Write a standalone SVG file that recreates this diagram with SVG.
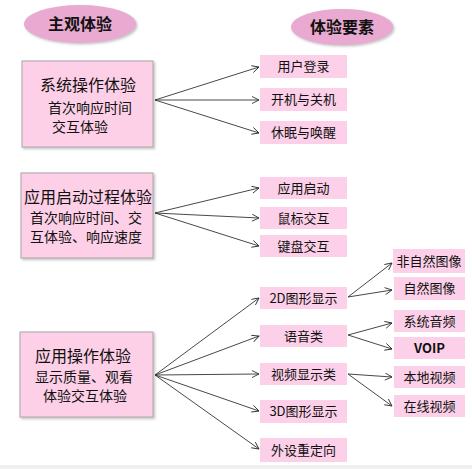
<svg xmlns="http://www.w3.org/2000/svg" width="472" height="469" viewBox="0 0 472 469">
<defs>
<style>
text{font-family:"Noto Sans CJK SC","Liberation Sans",sans-serif;fill:#111;}
.el{fill:#e9a9d0;}
.main{fill:#fdd0e8;stroke:#b8b0b4;stroke-width:1.2;}
.item{fill:#fcd0e8;}
.t16{font-size:16px;}
.t14{font-size:14px;}
.t13{font-size:13px;text-anchor:middle;}
.bold{font-weight:bold;font-size:16px;text-anchor:middle;}
.c{stroke:#333;stroke-width:0.9;fill:none;marker-end:url(#ah);}
</style>
<marker id="ah" markerWidth="10" markerHeight="10" refX="8" refY="4" orient="auto" markerUnits="userSpaceOnUse">
<polyline points="1,0.5 8,4 1,7.5" fill="none" stroke="#333" stroke-width="0.9"/>
</marker>
<filter id="sh" x="-10%" y="-10%" width="130%" height="130%">
<feDropShadow dx="1.5" dy="1.5" stdDeviation="1" flood-color="#888" flood-opacity="0.5"/>
</filter>
</defs>
<rect x="0" y="0" width="472" height="469" fill="#ffffff"/>
<rect x="0" y="465" width="472" height="4" fill="#f0f0f0"/>

<g id="ell1"><ellipse class="el" cx="80" cy="24" rx="56" ry="19" filter="url(#sh)"/><text class="bold" x="80" y="30">主观体验</text></g>
<g id="ell2"><ellipse class="el" cx="342" cy="27" rx="51" ry="18" filter="url(#sh)"/><text class="bold" x="342" y="33">体验要素</text></g>

<g id="box1"><rect class="main" x="22" y="61" width="131" height="86" filter="url(#sh)"/>
<text class="t16" x="40" y="91">系统操作体验</text>
<text class="t14" x="48" y="113">首次响应时间</text>
<text class="t14" x="52" y="132">交互体验</text></g>

<g id="box2"><rect class="main" x="21" y="173" width="132" height="85" filter="url(#sh)"/>
<text class="t16" x="24" y="203">应用启动过程体验</text>
<text class="t14" x="30" y="223">首次响应时间、交</text>
<text class="t14" x="30" y="242">互体验、响应速度</text></g>

<g id="box3"><rect class="main" x="20" y="332" width="133" height="85" filter="url(#sh)"/>
<text class="t16" x="35" y="362">应用操作体验</text>
<text class="t14" x="35" y="382">显示质量、观看</text>
<text class="t14" x="43" y="401">体验交互体验</text></g>

<g id="n-login"><rect class="item" x="260" y="55" width="87" height="23"/><text class="t13" x="303.5" y="71">用户登录</text></g>
<g id="n-power"><rect class="item" x="260" y="88" width="87" height="23"/><text class="t13" x="303.5" y="104">开机与关机</text></g>
<g id="n-sleep"><rect class="item" x="260" y="121" width="87" height="23"/><text class="t13" x="303.5" y="137">休眠与唤醒</text></g>

<g id="n-launch"><rect class="item" x="260" y="177" width="87" height="22"/><text class="t13" x="303.5" y="193">应用启动</text></g>
<g id="n-mouse"><rect class="item" x="260" y="207" width="87" height="22"/><text class="t13" x="303.5" y="223">鼠标交互</text></g>
<g id="n-kbd"><rect class="item" x="260" y="235" width="87" height="22"/><text class="t13" x="303.5" y="251">键盘交互</text></g>

<g id="n-2d"><rect class="item" x="260" y="287" width="87" height="22"/><text class="t13" x="303.5" y="303">2D图形显示</text></g>
<g id="n-voice"><rect class="item" x="260" y="325" width="87" height="22"/><text class="t13" x="303.5" y="341">语音类</text></g>
<g id="n-video"><rect class="item" x="260" y="363" width="87" height="22"/><text class="t13" x="303.5" y="379">视频显示类</text></g>
<g id="n-3d"><rect class="item" x="260" y="400" width="87" height="23"/><text class="t13" x="303.5" y="416">3D图形显示</text></g>
<g id="n-periph"><rect class="item" x="260" y="438" width="87" height="24"/><text class="t13" x="303.5" y="455">外设重定向</text></g>

<g id="n-nonnat"><rect class="item" x="393" y="249" width="72" height="24"/><text class="t13" x="429" y="266">非自然图像</text></g>
<g id="n-nat"><rect class="item" x="394" y="277" width="71" height="23"/><text class="t13" x="429.5" y="293">自然图像</text></g>
<g id="n-sysaudio"><rect class="item" x="394" y="310" width="71" height="22"/><text class="t13" x="429.5" y="326">系统音频</text></g>
<g id="n-voip"><rect class="item" x="394" y="337" width="71" height="22"/><text class="t13" x="429.5" y="353" font-weight="bold">VOIP</text></g>
<g id="n-local"><rect class="item" x="394" y="366" width="71" height="22"/><text class="t13" x="429.5" y="382">本地视频</text></g>
<g id="n-online"><rect class="item" x="394" y="395" width="71" height="22"/><text class="t13" x="429.5" y="411">在线视频</text></g>

<g id="connectors">
<path class="c" d="M155 100 L259 67"/>
<path class="c" d="M155 100 L259 100"/>
<path class="c" d="M155 100 L259 133"/>
<path class="c" d="M155 213 L259 188"/>
<path class="c" d="M155 213 L259 218"/>
<path class="c" d="M155 213 L259 246"/>
<path class="c" d="M155 375 L259 298"/>
<path class="c" d="M155 375 L259 336"/>
<path class="c" d="M155 375 L259 374"/>
<path class="c" d="M155 375 L259 411"/>
<path class="c" d="M155 375 L259 449"/>
<path class="c" d="M348 297 L392 263"/>
<path class="c" d="M348 297 L392 290"/>
<path class="c" d="M348 335 L392 323"/>
<path class="c" d="M348 335 L392 349"/>
<path class="c" d="M348 374 L392 377"/>
<path class="c" d="M348 374 L392 406"/>
</g>
</svg>
